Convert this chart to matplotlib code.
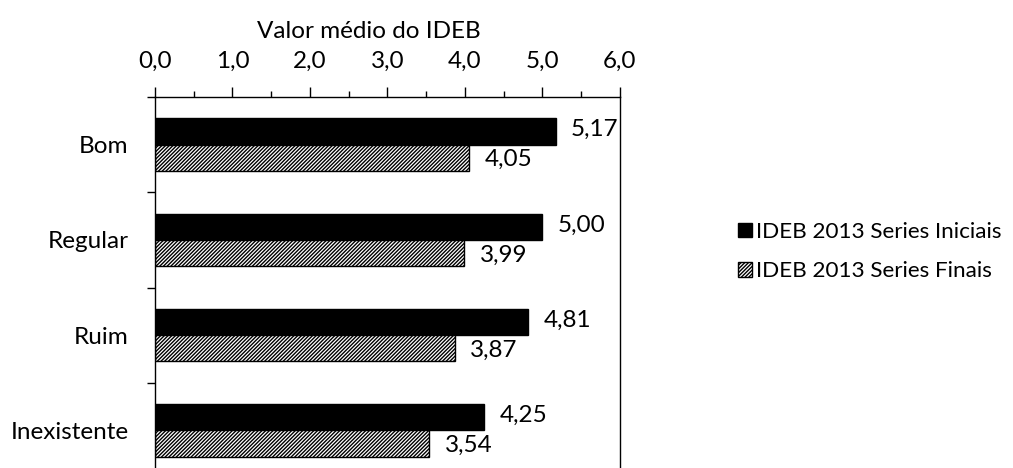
import numpy as np
import matplotlib.pyplot as plt
from matplotlib.ticker import FuncFormatter, MultipleLocator, FixedLocator
from matplotlib.patches import Patch

categorias = ["Bom", "Regular", "Ruim", "Inexistente"]
iniciais = [5.17, 5.00, 4.81, 4.25]
finais = [4.05, 3.99, 3.87, 3.54]
serie_nomes = ["IDEB 2013 Series Iniciais", "IDEB 2013 Series Finais"]

plt.rcParams['font.family'] = ['Lato', 'DejaVu Sans']
plt.rcParams['hatch.linewidth'] = 1.0
fs = 17.5

fig = plt.figure(figsize=(10.13, 4.68), dpi=100)
ax = fig.add_axes([0.153, -0.0214, 0.459, 0.8141])

y = np.arange(len(categorias))
h = 0.275
ax.barh(y - h / 2, iniciais, height=h, color='black', edgecolor='black', linewidth=1)
ax.barh(y + h / 2, finais, height=h, color='white', edgecolor='black', linewidth=1, hatch='/////////')

virgula = lambda v: f"{v:.2f}".replace('.', ',')
for i in range(len(categorias)):
    ax.text(iniciais[i] + 0.2, y[i] - h / 2 - 0.02, virgula(iniciais[i]), va='center', ha='left', fontsize=fs)
    ax.text(finais[i] + 0.2, y[i] + h / 2 + 0.02, virgula(finais[i]), va='center', ha='left', fontsize=fs)

ax.set_xlim(0, 6)
ax.set_ylim(3.5, -0.5)
ax.xaxis.set_ticks_position('top')
ax.xaxis.set_label_position('top')
ax.xaxis.set_major_locator(MultipleLocator(1))
ax.xaxis.set_minor_locator(MultipleLocator(0.5))
ax.xaxis.set_major_formatter(FuncFormatter(lambda v, p: f"{v:.1f}".replace('.', ',')))
ax.tick_params(axis='x', which='major', length=7, width=1, labelsize=fs, pad=11)
ax.tick_params(axis='x', which='minor', length=4, width=1)
ax.set_xlabel("Valor médio do IDEB", fontsize=fs)
ax.xaxis.set_label_coords(0.46, 1.155)

# category boundaries get the ticks, names sit in between
ax.yaxis.set_major_locator(FixedLocator([-0.5, 0.5, 1.5, 2.5]))
ax.yaxis.set_major_formatter(FuncFormatter(lambda v, p: ""))
ax.yaxis.set_minor_locator(FixedLocator(y))
ax.set_yticklabels(categorias, minor=True)
ax.tick_params(axis='y', which='major', length=6, width=1)
ax.tick_params(axis='y', which='minor', length=0, labelsize=fs, pad=19)

for s in ['top', 'left', 'right']:
    ax.spines[s].set_linewidth(1)
ax.spines['bottom'].set_visible(False)

handles = [Patch(facecolor='black', edgecolor='black'),
           Patch(facecolor='white', edgecolor='black', hatch='/////////')]
fig.legend(handles, serie_nomes, loc='center left', bbox_to_anchor=(0.72, 0.462),
           frameon=False, fontsize=16.2, handlelength=0.6, handleheight=0.6,
           handletextpad=0.2, labelspacing=0.85, borderaxespad=0)

fig.savefig('out.png', dpi=100)
